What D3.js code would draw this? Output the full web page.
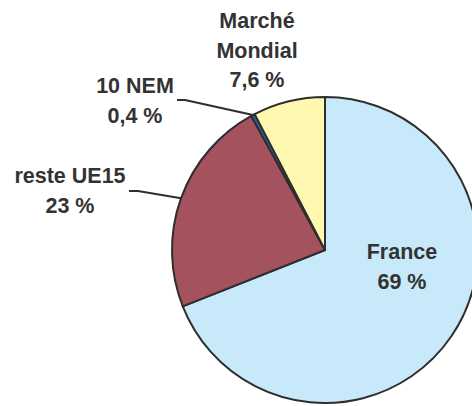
<!DOCTYPE html>
<html lang="fr">
<head>
  <meta charset="UTF-8">
  <title>Répartition</title>
  <style>
    body { margin: 0; background: #fff; }
    text { font-family: "Liberation Sans", Arial, sans-serif; font-weight: bold; fill: #333; }
  </style>
</head>
<body>
  <svg id="svg" width="472" height="406"></svg>

  <script src="https://d3js.org/d3.v7.min.js"></script>
  <script>
    // data
    const categories = ['France', 'reste UE15', '10 NEM', 'Marché Mondial']
    const values = [69, 23, 0.4, 7.6]
    const valueLabels = ['69 %', '23 %', '0,4 %', '7,6 %']
    const colors = ['#c8e9f9', '#a4525d', '#2f5fa6', '#fff8b1']

    // label lines (name may be split over 2 lines)
    const nameLines = [['France'], ['reste UE15'], ['10 NEM'], ['Marché', 'Mondial']]

    const cx = 325, cy = 250, r = 153
    const lineH = 29.5

    // where each label block sits (center x, first baseline y)
    const labelPos = [
      { x: 402, y: 259 },
      { x: 70, y: 183 },
      { x: 135, y: 93 },
      { x: 257, y: 28 }
    ]
    // leader lines: horizontal stub start/end, null = none
    const leaders = [null, { x0: 129, x1: 138, y: 191 }, { x0: 177, x1: 185, y: 100 }, null]

    const svg = d3.select('#svg')
    const g = svg.append('g').attr('transform', `translate(${cx},${cy})`)

    const pie = d3.pie().sort(null).value(d => d)
    const arcs = pie(values)
    const arc = d3.arc().innerRadius(0).outerRadius(r)
    const edge = d3.arc().innerRadius(r).outerRadius(r)

    g.selectAll('path.slice')
      .data(arcs)
      .enter()
      .append('path')
      .attr('class', 'slice')
      .attr('d', arc)
      .attr('fill', (d, i) => colors[i])
      .attr('stroke', '#2e2e2e')
      .attr('stroke-width', 2)
      .attr('stroke-linejoin', 'round')

    // leader lines
    arcs.forEach((d, i) => {
      const l = leaders[i]
      if (!l) return
      const c = edge.centroid(d)
      svg.append('polyline')
        .attr('points', `${l.x0},${l.y} ${l.x1},${l.y} ${cx + c[0]},${cy + c[1]}`)
        .attr('fill', 'none')
        .attr('stroke', '#2e2e2e')
        .attr('stroke-width', 2)
    })

    // labels
    categories.forEach((c, i) => {
      const lines = nameLines[i].concat([valueLabels[i]])
      const t = svg.append('text')
        .attr('text-anchor', 'middle')
        .attr('font-size', 21.5)
      lines.forEach((s, k) => {
        t.append('tspan')
          .attr('x', labelPos[i].x)
          .attr('y', labelPos[i].y + k * lineH)
          .text(s)
      })
    })
  </script>
</body>
</html>
